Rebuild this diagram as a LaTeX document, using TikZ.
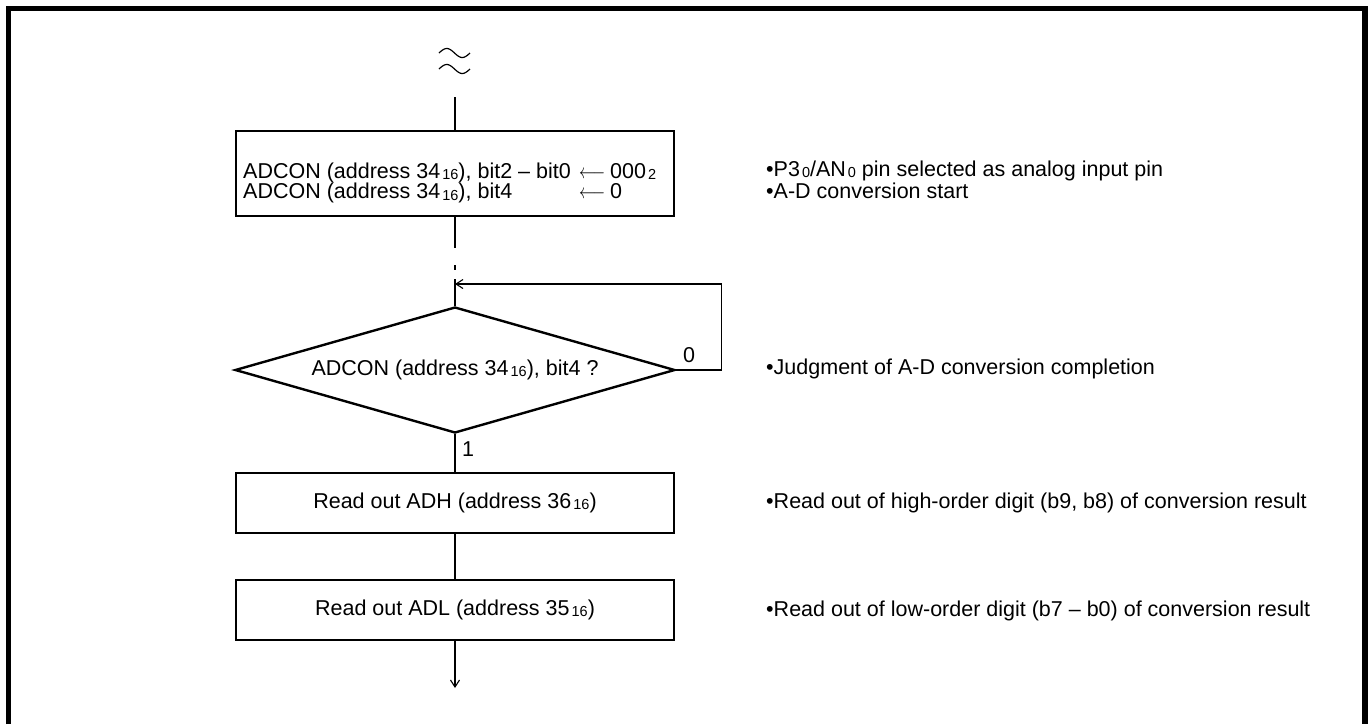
\documentclass[tikz,border=0pt]{standalone}
\usepackage{fontspec}
\setmainfont{Liberation Sans}
\usetikzlibrary{shapes.geometric,arrows.meta}
\newcommand\fs{\fontsize{21.5}{20.5}\selectfont}
\newcommand\sbx[1]{\kern2pt\raisebox{-1.2pt}{\fontsize{14.5}{14.5}\selectfont #1}}
\newcommand\larr{\scalebox{0.78}[1]{$\longleftarrow$}}
\begin{document}
\begin{tikzpicture}[x=1pt,y=-1pt,
  box/.style={draw, line width=2.4pt, inner sep=0pt, minimum width=438pt, font=\fs},
  dia/.style={draw, diamond, line width=2.4pt, inner sep=0pt, aspect=3.5,
              minimum width=440pt, minimum height=126pt, font=\fs},
  conn/.style={line width=1.1pt},
  arr/.style={conn, -{Straight Barb[length=7pt,width=9pt]}},
  lbl/.style={inner sep=0pt, anchor=west, font=\fs},
  wave/.style={line width=1.2pt}]
\useasboundingbox (0,0) rectangle (1369,724);
% frame
\draw[line width=5.5pt] (8.5,724) -- (8.5,8.5) -- (1365,8.5) -- (1365,724);
% break symbol
\draw[wave] plot[domain=0:1, samples=40] ({439+31*\x},{53-4.5*sin(360*\x)});
\draw[wave] plot[domain=0:1, samples=40] ({439+31*\x},{69-4.5*sin(360*\x)});
\coordinate (top) at (455,97);
% boxes
\node[box, minimum height=85pt] (b1) at (455,173.5) {};
\node[lbl, align=left] (b1t) at (243,183)
  {\makebox[336pt][l]{ADCON (address 34\sbx{16}), bit2 – bit0}\makebox[31pt][l]{\larr}000\sbx{2}\\
   \makebox[336pt][l]{ADCON (address 34\sbx{16}), bit4}\makebox[31pt][l]{\larr}0};
\node[dia] (dec) at (455,370) {ADCON (address 34\sbx{16}), bit4 ?};
\node[box, minimum height=60pt] (b2) at (455,503) {Read out ADH (address 36\sbx{16})};
\node[box, minimum height=60pt] (b3) at (455,610) {Read out ADL (address 35\sbx{16})};
\coordinate (fb) at (455,284);
\coordinate (end) at (455,688);
% connectors
\draw[conn] (top) -- (b1.north);
\draw[conn, dash pattern=on 31pt off 17pt on 5pt off 9pt on 40pt] (b1.south) -- (dec.north);
\draw[arr] (dec.east) -- ++(45,0) |- (fb);
\draw[conn] (dec.south) -- (b2.north);
\draw[conn] (b2.south) -- (b3.north);
\draw[arr] (b3.south) -- (end);
\node[inner sep=0pt, font=\fs] (l0) at (689,355) {0};
\node[inner sep=0pt, font=\fs] (l1) at (468,449) {1};
% comments
\node[lbl] (c1) at (766,171) {•P3\sbx{0}/AN\sbx{0} pin selected as analog input pin};
\node[lbl] (c2) at (766,191) {•A-D conversion start};
\node[lbl] (c3) at (766,369) {•Judgment of A-D conversion completion};
\node[lbl] (c4) at (766,503) {•Read out of high-order digit (b9, b8) of conversion result};
\node[lbl] (c5) at (766,611) {•Read out of low-order digit (b7 – b0) of conversion result};
\end{tikzpicture}
\end{document}
